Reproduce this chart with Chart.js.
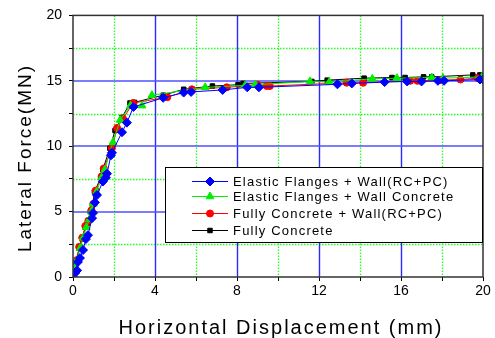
<!DOCTYPE html>
<html>
<head>
<meta charset="utf-8">
<script src="https://cdn.jsdelivr.net/npm/chart.js@4/dist/chart.umd.min.js"></script>
<style>
html,body{margin:0;padding:0;background:#fff;}
canvas{display:block;}
</style>
</head>
<body>
<canvas id="c" width="495" height="338"></canvas>
<script>
const seriesLabels = [
  "Elastic Flanges + Wall(RC+PC)",
  "Elastic Flanges + Wall Concrete",
  "Fully Concrete + Wall(RC+PC)",
  "Fully Concrete"
];
const xTickLabels = [0, 4, 8, 12, 16, 20];
const yTickLabels = [0, 5, 10, 15, 20];
const xTitle = "Horizontal Displacement (mm)";
const yTitle = "Lateral Force(MN)";

const blueX = [0, 0.1, 0.2, 0.24, 0.34, 0.49, 0.63, 0.73, 0.93, 0.98, 1.07, 1.17, 1.46, 1.6, 1.66, 1.85, 1.9, 2.39, 2.63, 2.95, 4.4, 5.4, 5.76, 7.3, 8.5, 9.07, 12.9, 13.6, 15.2, 16.3, 17.0, 17.8, 18.1, 19.85, 20];
const blueY = [0, 0.3, 0.5, 1.15, 1.45, 2.06, 2.9, 3.2, 4.5, 4.9, 5.7, 6.26, 7.3, 7.6, 7.9, 9.3, 9.5, 11.07, 11.8, 13.0, 13.7, 14.1, 14.15, 14.3, 14.5, 14.5, 14.73, 14.8, 14.9, 14.95, 14.95, 15.0, 15.0, 15.1, 15.1];

const greenX = [0, 0.1, 0.2, 0.35, 0.5, 0.65, 0.8, 0.9, 1.0, 1.15, 1.4, 1.55, 1.95, 2.3, 2.8, 3.37, 3.85, 6.45, 8.4, 8.9, 11.56, 12.5, 14.6, 15.8, 17.5, 18.05, 19.95];
const greenY = [0, 0.7, 1.3, 2.2, 3.0, 3.8, 4.4, 5.0, 5.6, 6.5, 7.6, 8.2, 10.3, 12.0, 13.1, 13.1, 13.9, 14.5, 14.65, 14.7, 14.95, 14.9, 15.15, 15.2, 15.25, 15.2, 15.3];

const redX = [0, 0.05, 0.2, 0.3, 0.45, 0.6, 0.75, 0.9, 1.0, 1.1, 1.4, 1.5, 1.9, 2.15, 2.44, 2.93, 4.6, 5.8, 7.5, 9.0, 9.45, 9.6, 13.35, 14.15, 16.45, 16.8, 17.9, 18.9, 19.75];
const redY = [0, 0.8, 1.3, 2.3, 3.0, 3.9, 4.3, 5.1, 5.6, 6.6, 7.7, 8.3, 9.85, 11.4, 12.1, 13.3, 13.75, 14.35, 14.5, 14.7, 14.6, 14.6, 14.85, 14.85, 15.0, 15.0, 15.05, 15.1, 15.2];

const blackX = [0, 0.05, 0.15, 0.3, 0.45, 0.6, 0.7, 0.85, 0.95, 1.05, 1.35, 1.45, 1.8, 2.05, 2.39, 2.78, 3.0, 4.4, 5.4, 6.8, 8.05, 8.3, 11.65, 12.4, 14.2, 15.56, 16.2, 17.1, 17.5, 19.5, 19.85];
const blackY = [0, 0.6, 1.2, 2.2, 2.9, 3.8, 4.1, 5.0, 5.5, 6.5, 7.6, 8.2, 9.85, 11.2, 12.2, 13.3, 13.35, 13.9, 14.35, 14.6, 14.7, 14.8, 14.95, 15.05, 15.2, 15.25, 15.25, 15.3, 15.3, 15.45, 15.45];

const pts = (xs, ys) => xs.map((x, i) => ({x: x, y: ys[i]}));
const FONT = "'Liberation Sans', Arial, sans-serif";

const styles = [
  {color: '#0000ff', point: 'rectRot', r: 4.5},
  {color: '#00ee00', point: 'triangle', r: 4.5},
  {color: '#ff0000', point: 'circle', r: 3.5},
  {color: '#000000', point: 'rect', r: 3.2}
];
const dataPairs = [[blueX, blueY], [greenX, greenY], [redX, redY], [blackX, blackY]];

const datasets = dataPairs.map((p, i) => ({
  label: seriesLabels[i],
  data: pts(p[0], p[1]),
  borderColor: styles[i].color,
  backgroundColor: styles[i].color,
  pointBackgroundColor: styles[i].color,
  pointBorderColor: styles[i].color,
  pointStyle: styles[i].point,
  pointRadius: styles[i].r,
  pointBorderWidth: 1,
  borderWidth: 1,
  tension: 0,
  showLine: true,
  fill: false
}));

const gridPlugin = {
  id: 'gridPlugin',
  beforeDatasetsDraw(chart) {
    const {ctx, chartArea: a, scales: {x, y}} = chart;
    ctx.save();
    // minor dotted green
    ctx.strokeStyle = '#22ff22';
    ctx.lineWidth = 1.3;
    ctx.setLineDash([1.5, 1.5]);
    [2, 6, 10, 14, 18].forEach(v => {
      const px = Math.round(x.getPixelForValue(v)) + 0.5;
      ctx.beginPath(); ctx.moveTo(px, a.top); ctx.lineTo(px, a.bottom); ctx.stroke();
    });
    [2.5, 7.5, 12.5, 17.5].forEach(v => {
      const py = Math.round(y.getPixelForValue(v)) + 0.5;
      ctx.beginPath(); ctx.moveTo(a.left, py); ctx.lineTo(a.right, py); ctx.stroke();
    });
    // major blue
    ctx.setLineDash([]);
    ctx.strokeStyle = '#2a2aff';
    ctx.lineWidth = 1.4;
    [4, 8, 12, 16].forEach(v => {
      const px = Math.round(x.getPixelForValue(v)) + 0.5;
      ctx.beginPath(); ctx.moveTo(px, a.top); ctx.lineTo(px, a.bottom); ctx.stroke();
    });
    ctx.strokeStyle = '#5050ff';
    ctx.lineWidth = 1.5;
    [5, 10, 15].forEach(v => {
      const py = Math.round(y.getPixelForValue(v));
      ctx.beginPath(); ctx.moveTo(a.left, py); ctx.lineTo(a.right, py); ctx.stroke();
    });
    ctx.restore();
  },
  afterDraw(chart) {
    const {ctx, chartArea: a} = chart;
    ctx.save();
    // frame
    ctx.strokeStyle = '#333';
    ctx.lineWidth = 1.5;
    ctx.strokeRect(a.left, a.top, a.right - a.left, a.bottom - a.top);

    // legend
    const lx = 165, ly = 167, lw = 317, lh = 75;
    ctx.fillStyle = '#fff';
    ctx.fillRect(lx, ly, lw, lh);
    ctx.strokeStyle = '#000';
    ctx.lineWidth = 1;
    ctx.strokeRect(lx + 0.5, ly + 0.5, lw, lh);
    const rows = [181, 196, 213, 230];
    ctx.font = '13px ' + FONT;
    ctx.textBaseline = 'middle';
    ctx.textAlign = 'left';
    if ('letterSpacing' in ctx) ctx.letterSpacing = '1.2px';
    chart.data.datasets.forEach((ds, i) => {
      const yy = rows[i] + 0.5;
      ctx.strokeStyle = ds.borderColor;
      ctx.lineWidth = 1;
      ctx.beginPath(); ctx.moveTo(192, yy); ctx.lineTo(228, yy); ctx.stroke();
      ctx.fillStyle = ds.borderColor;
      ctx.strokeStyle = ds.borderColor;
      Chart.helpers.drawPoint(ctx, {pointStyle: ds.pointStyle, radius: ds.pointRadius, rotation: 0, borderWidth: 1}, 210, yy);
      ctx.fillStyle = '#000';
      ctx.fillText(ds.label, 233, rows[i] + 1);
    });

    // axis titles
    ctx.fillStyle = '#000';
    ctx.font = '20px ' + FONT;
    if ('letterSpacing' in ctx) ctx.letterSpacing = '2px';
    ctx.textAlign = 'center';
    ctx.textBaseline = 'alphabetic';
    ctx.fillText(xTitle, 281, 334);
    ctx.font = '19px ' + FONT;
    ctx.translate(31, 158);
    ctx.rotate(-Math.PI / 2);
    ctx.fillText(yTitle, 0, 0);
    ctx.restore();
  }
};

new Chart(document.getElementById('c'), {
  type: 'line',
  data: {datasets: datasets},
  options: {
    responsive: false,
    animation: false,
    devicePixelRatio: 1,
    layout: {padding: {left: 0, top: 15, right: 12, bottom: 0}},
    plugins: {legend: {display: false}, tooltip: {enabled: false}},
    scales: {
      x: {
        type: 'linear',
        min: 0, max: 20,
        afterFit(s) { s.height = 61; },
        afterBuildTicks(s) { s.ticks = [0,2,4,6,8,10,12,14,16,18,20].map(v => ({value: v})); },
        ticks: {
          autoSkip: false,
          maxRotation: 0,
          padding: 2,
          color: '#000',
          font: {family: FONT, size: 14},
          callback: v => xTickLabels.includes(v) ? String(v) : ''
        },
        grid: {drawOnChartArea: false, drawTicks: true, tickLength: 4, tickColor: '#000', tickWidth: 1},
        border: {display: false}
      },
      y: {
        type: 'linear',
        min: 0, max: 20,
        afterFit(s) { s.width = 73; },
        afterBuildTicks(s) { s.ticks = [0,2.5,5,7.5,10,12.5,15,17.5,20].map(v => ({value: v})); },
        ticks: {
          autoSkip: false,
          padding: 7,
          color: '#000',
          font: {family: FONT, size: 14},
          callback: v => yTickLabels.includes(v) ? String(v) : ''
        },
        grid: {drawOnChartArea: false, drawTicks: true, tickLength: 4, tickColor: '#000', tickWidth: 1},
        border: {display: false}
      }
    }
  },
  plugins: [gridPlugin]
});
</script>
</body>
</html>
